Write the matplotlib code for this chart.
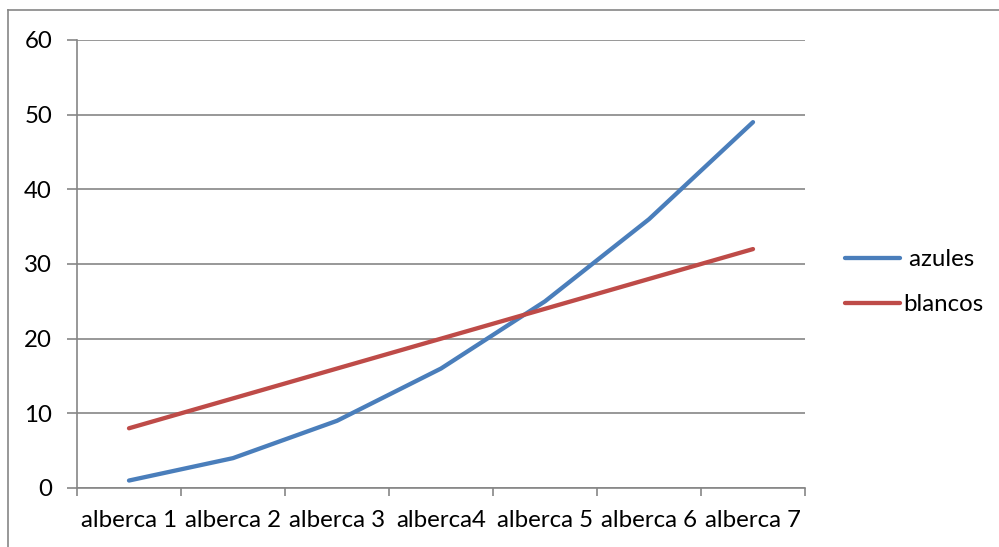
import numpy as np
import matplotlib.pyplot as plt
from matplotlib.lines import Line2D

plt.rcParams['font.family'] = ['Lato', 'DejaVu Sans']

categorias = ['alberca 1', 'alberca 2', 'alberca 3', 'alberca4', 'alberca 5', 'alberca 6', 'alberca 7']
azules = [1, 4, 9, 16, 25, 36, 49]
blancos = [8, 12, 16, 20, 24, 28, 32]

W, H = 999, 547
fs = 17.3
fig = plt.figure(figsize=(W/100, H/100), dpi=100)
ax = fig.add_axes([77/W, 1 - 488/H, (805-77)/W, (488-40)/H])

x = np.arange(len(categorias))
ax.plot(x, azules, color='#4A7EBB', lw=3.1, solid_capstyle='round', label=' azules', zorder=3)
ax.plot(x, blancos, color='#BE4B48', lw=3.1, solid_capstyle='round', label='blancos', zorder=3)

gris = '#868686'
ax.set_xlim(-0.5, 6.5)
ax.set_ylim(0, 60)
ax.set_yticks(range(0, 61, 10))
ax.yaxis.grid(True, color=gris, lw=1.2)
ax.set_axisbelow(True)

# labels centred on categories, tick marks between them
ax.set_xticks(x)
ax.set_xticklabels(categorias)
ax.set_xticks(np.arange(-0.5, 7, 1), minor=True)
ax.tick_params(axis='x', which='major', length=0, pad=16, labelsize=fs)
ax.tick_params(axis='x', which='minor', length=6, width=1.2, color=gris)
ax.tick_params(axis='y', length=7, width=1.2, color=gris, pad=11, labelsize=fs)

for s in ['top', 'right']:
    ax.spines[s].set_visible(False)
for s in ['left', 'bottom']:
    ax.spines[s].set_color(gris)
    ax.spines[s].set_linewidth(1.2)

ax.legend(loc='center left', bbox_to_anchor=(845/W, 1 - 282/H), bbox_transform=fig.transFigure,
          frameon=False, fontsize=fs, borderpad=0, borderaxespad=0, handlelength=2.3,
          handletextpad=0.12, labelspacing=1.0)

# outer chart frame
fig.add_artist(Line2D([8/W, 8/W], [0, 1 - 10/H], transform=fig.transFigure, color=gris, lw=1.2))
fig.add_artist(Line2D([8/W, 1], [1 - 10/H, 1 - 10/H], transform=fig.transFigure, color=gris, lw=1.2))

fig.savefig('out.png', dpi=100)
